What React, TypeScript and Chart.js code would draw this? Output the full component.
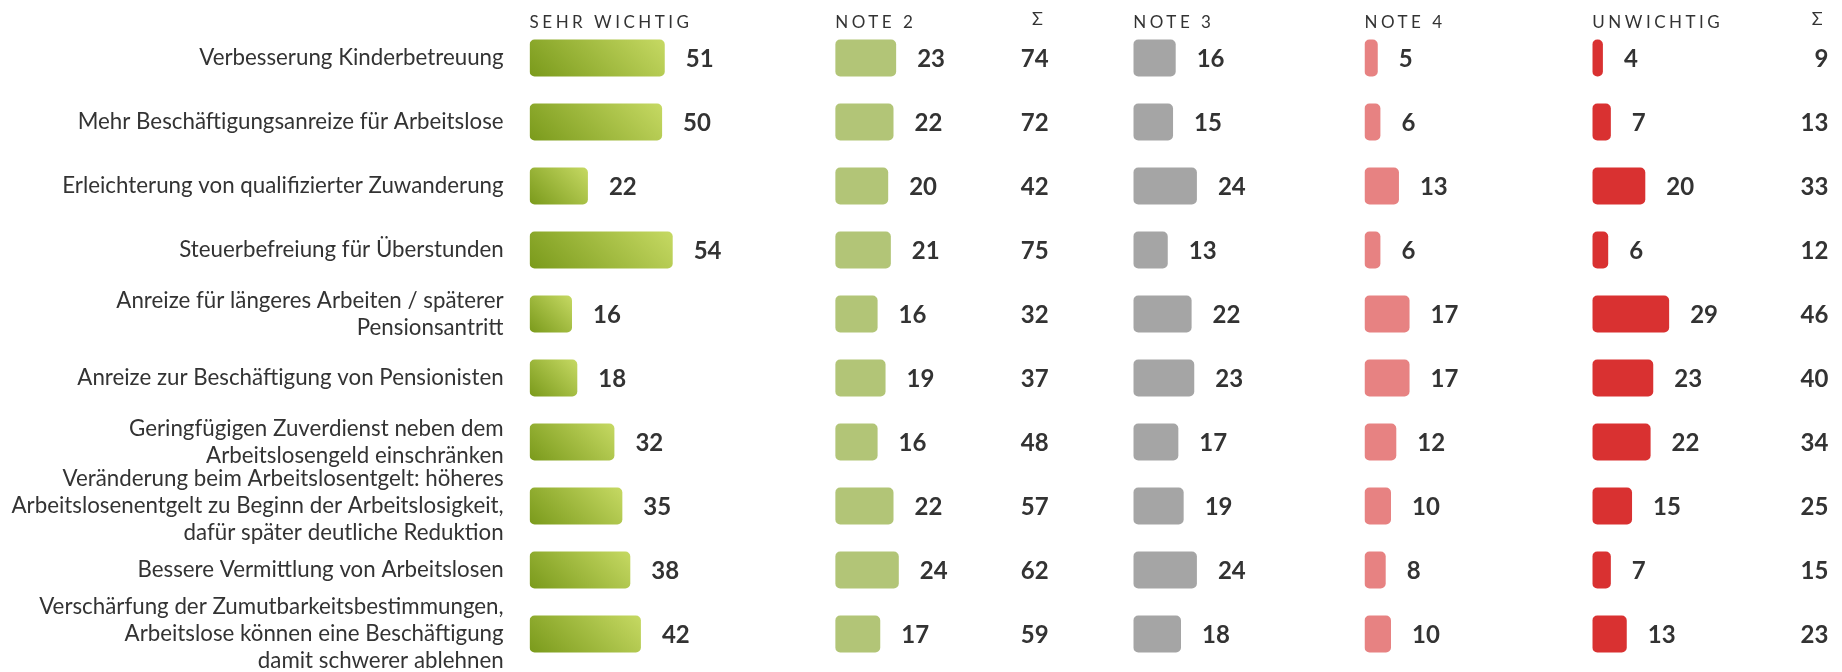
import React, { useEffect, useRef } from "react";
import { Chart, registerables } from "chart.js";

Chart.register(...registerables);

// ---------------- data ----------------
const CATEGORIES: (string | string[])[] = [
  "Verbesserung Kinderbetreuung",
  "Mehr Beschäftigungsanreize für Arbeitslose",
  "Erleichterung von qualifizierter Zuwanderung",
  "Steuerbefreiung für Überstunden",
  ["Anreize für längeres Arbeiten / späterer", "Pensionsantritt"],
  "Anreize zur Beschäftigung von Pensionisten",
  ["Geringfügigen Zuverdienst neben dem", "Arbeitslosengeld einschränken"],
  [
    "Veränderung beim Arbeitslosentgelt: höheres",
    "Arbeitslosenentgelt zu Beginn der Arbeitslosigkeit,",
    "dafür später deutliche Reduktion",
  ],
  "Bessere Vermittlung von Arbeitslosen",
  [
    "Verschärfung der Zumutbarkeitsbestimmungen,",
    "Arbeitslose können eine Beschäftigung",
    "damit schwerer ablehnen",
  ],
];

const SEHR_WICHTIG = [51, 50, 22, 54, 16, 18, 32, 35, 38, 42];
const NOTE_2 = [23, 22, 20, 21, 16, 19, 16, 22, 24, 17];
const NOTE_3 = [16, 15, 24, 13, 22, 23, 17, 19, 24, 18];
const NOTE_4 = [5, 6, 13, 6, 17, 17, 12, 10, 8, 10];
const UNWICHTIG = [4, 7, 20, 6, 29, 23, 22, 15, 7, 13];

const COLUMN_HEADERS = ["SEHR WICHTIG", "NOTE 2", "NOTE 3", "NOTE 4", "UNWICHTIG"];
const SUM_HEADER = "Σ";

const SUM_WICHTIG = SEHR_WICHTIG.map((v, i) => v + NOTE_2[i]);
const SUM_UNWICHTIG = NOTE_4.map((v, i) => v + UNWICHTIG[i]);

// ---------------- layout / style ----------------
const W = 1842;
const H = 672;
const PX_PER_UNIT = 2.65;
const COL_STARTS = [529.6, 835.2, 1133.3, 1364.5, 1592.3];
const CHART_RIGHT = 1842;
const COL_WIDTHS = COL_STARTS.map((s, i) =>
  i < COL_STARTS.length - 1 ? COL_STARTS[i + 1] - s : CHART_RIGHT - s
);
const SUM_RIGHT_OFFSETS = [213.5, 236]; // relative to column 2 / column 5 start
const TEXT = "#333333";
const FONT = "Lato, 'Noto Sans', sans-serif";

const COLORS = ["#9fbb3c", "#b2c577", "#a5a5a5", "#e78282", "#d93131"];
const GREEN_DARK = "#7a9a1b";
const GREEN_LIGHT = "#c6d963";
const BAR_PCT = 0.575;

const SERIES = [SEHR_WICHTIG, NOTE_2, NOTE_3, NOTE_4, UNWICHTIG];

const overlayPlugin = {
  id: "overlay",
  afterDatasetsDraw(chart: any) {
    const ctx = chart.ctx as CanvasRenderingContext2D;
    const ys = chart.scales.y;
    ctx.save();
    ctx.fillStyle = TEXT;
    ctx.font = `bold 24px ${FONT}`;
    ctx.textBaseline = "alphabetic";
    ctx.textAlign = "left";
    chart.data.datasets.forEach((ds: any, di: number) => {
      const meta = chart.getDatasetMeta(di);
      meta.data.forEach((el: any, j: number) => {
        ctx.fillText(String(ds.data[j]), el.x + 21, el.y + 8.5);
      });
    });
    ctx.textAlign = "right";
    const s2 = chart.scales.x2.left + SUM_RIGHT_OFFSETS[0];
    const s5 = chart.scales.x5.left + SUM_RIGHT_OFFSETS[1];
    SUM_WICHTIG.forEach((v, j) => ctx.fillText(String(v), s2, ys.getPixelForValue(j) + 8.5));
    SUM_UNWICHTIG.forEach((v, j) => ctx.fillText(String(v), s5, ys.getPixelForValue(j) + 8.5));

    // headers
    ctx.font = `17px ${FONT}`;
    (ctx as any).letterSpacing = "3.5px";
    ctx.textAlign = "left";
    COLUMN_HEADERS.forEach((h, i) => {
      const sc = chart.scales["x" + (i + 1)];
      ctx.fillText(h, sc.left, 28.3);
    });
    (ctx as any).letterSpacing = "0px";
    ctx.font = `18px ${FONT}`;
    ctx.textAlign = "center";
    ctx.fillText(SUM_HEADER, s2 - 11.2, 25);
    ctx.fillText(SUM_HEADER, s5 - 11.2, 25);
    ctx.restore();
  },
};

export default function App() {
  const ref = useRef<HTMLCanvasElement | null>(null);
  useEffect(() => {
    document.body.style.margin = "0";
    const canvas = ref.current!;
    Chart.defaults.font.family = FONT;

    const scales: any = {
      y: {
        type: "category",
        position: "left",
        grid: { display: false, drawTicks: false },
        border: { display: false },
        ticks: {
          autoSkip: false,
          padding: 26,
          color: TEXT,
          font: { family: FONT, size: 22.3, lineHeight: 1.2 },
        },
        afterFit: (s: any) => {
          s.width = COL_STARTS[0];
          s.paddingTop = 0;
          s.paddingBottom = 0;
        },
      },
    };
    COL_WIDTHS.forEach((w, i) => {
      scales["x" + (i + 1)] = {
        type: "linear",
        axis: "x",
        position: "bottom",
        stack: "cols",
        stackWeight: w,
        min: 0,
        max: w / PX_PER_UNIT,
        display: false,
      };
    });

    const datasets = SERIES.map((values, i) => ({
      label: COLUMN_HEADERS[i],
      data: values,
      xAxisID: "x" + (i + 1),
      yAxisID: "y",
      grouped: false,
      barPercentage: BAR_PCT,
      categoryPercentage: 1,
      borderRadius: 5,
      borderSkipped: false,
      backgroundColor:
        i === 0
          ? (c: any) => {
              const chart = c.chart;
              const xs = chart.scales?.x1;
              const yScale = chart.scales?.y;
              if (!xs || !yScale || c.dataIndex === undefined) return COLORS[0];
              const v = c.raw as number;
              const x0 = xs.getPixelForValue(0);
              const x1 = xs.getPixelForValue(v);
              const yc = yScale.getPixelForValue(c.dataIndex);
              if (![x0, x1, yc].every((n) => Number.isFinite(n))) return COLORS[0];
              const half = (64 * BAR_PCT) / 2;
              const yb = yc + half;
              const d = (x1 - x0 + 2 * half) / 2;
              const g = chart.ctx.createLinearGradient(x0, yb, x0 + d, yb - d);
              g.addColorStop(0, GREEN_DARK);
              g.addColorStop(1, GREEN_LIGHT);
              return g;
            }
          : COLORS[i],
    }));

    const chart = new Chart(canvas, {
      type: "bar",
      data: { labels: CATEGORIES as any, datasets: datasets as any },
      options: {
        indexAxis: "y",
        responsive: false,
        animation: false,
        devicePixelRatio: 1,
        layout: { padding: { top: 26, bottom: 6, left: 0, right: 0 } },
        plugins: {
          legend: { display: false },
          tooltip: { enabled: false },
          title: { display: false },
        },
        scales,
      },
      plugins: [overlayPlugin],
    });
    return () => chart.destroy();
  }, []);

  return (
    <div style={{ width: W, height: H, background: "#fff" }}>
      <canvas ref={ref} width={W} height={H} style={{ display: "block" }} />
    </div>
  );
}
